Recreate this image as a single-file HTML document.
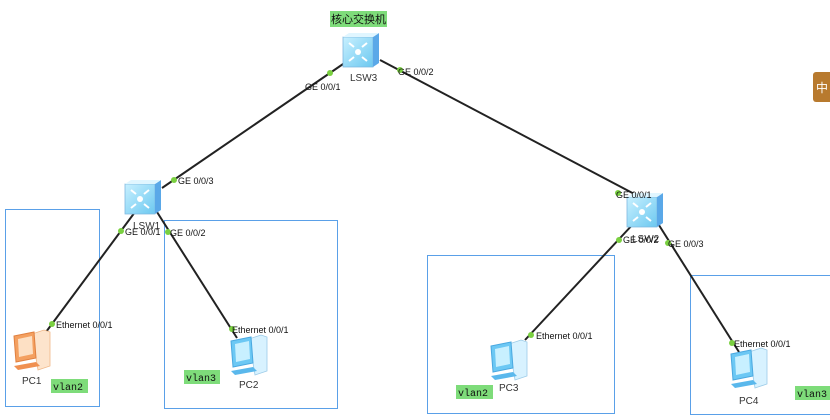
<!DOCTYPE html>
<html><head><meta charset="utf-8"><style>
body{margin:0;background:#fff;}
svg{display:block;font-family:"Liberation Sans","Noto Sans CJK SC",sans-serif;}
.p{font-size:9px;fill:#111;}
.n{font-size:10px;fill:#333;}
.v{font-family:"Liberation Mono",monospace;font-size:10px;fill:#111;}
</style></head><body>
<svg width="830" height="420" viewBox="0 0 830 420">
<defs>
<linearGradient id="sw" x1="0" y1="0" x2="1" y2="1"><stop offset="0" stop-color="#c8f0ff"/><stop offset="1" stop-color="#6cc8f0"/></linearGradient>
<g id="switch">
<path d="M0 4 L30 4 L30 34 L0 34 Z" fill="url(#sw)" stroke="#7fb8e0" stroke-width="0.8"/>
<path d="M30 4 L36 0 L36 30 L30 34 Z" fill="#5aa8e8"/>
<path d="M0 4 L6 0 L36 0 L30 4 Z" fill="#e0f6ff"/>
<circle cx="15" cy="19" r="3" fill="#fff"/>
<path d="M6 10 L11 14 M24 10 L19 14 M6 28 L11 24 M24 28 L19 24" stroke="#fff" stroke-width="2"/>
</g>
<g id="pc">
<path d="M22 6 L34 2 L40 4 L40 38 L28 42 Z" fill="#d8f2ff" stroke="#9ccbe8" stroke-width="0.8"/>
<path d="M4 8 L24 4 L26 30 L6 34 Z" fill="#6cc8f4" stroke="#4aa8e0"/>
<path d="M8 11 L22 8 L23 26 L9 29 Z" fill="#c8f0ff"/>
<path d="M4 38 L26 34 L30 38 L8 42 Z" fill="#5ab8ec"/>
</g>
<g id="pco">
<path d="M22 6 L34 2 L40 4 L40 38 L28 42 Z" fill="#fde4cc" stroke="#f0b888" stroke-width="0.8"/>
<path d="M4 8 L24 4 L26 30 L6 34 Z" fill="#f4a060" stroke="#e08040"/>
<path d="M8 11 L22 8 L23 26 L9 29 Z" fill="#fde0c4"/>
<path d="M4 38 L26 34 L30 38 L8 42 Z" fill="#f09050"/>
</g>
</defs>
<g fill="none" stroke="#5aa0e8" stroke-width="1">
<rect x="5.5" y="209.5" width="94" height="197"/>
<rect x="164.5" y="220.5" width="173" height="188"/>
<rect x="427.5" y="255.5" width="187" height="158"/>
<rect x="690.5" y="275.5" width="145" height="139"/>
</g>
<g stroke="#222" stroke-width="2">
<line x1="346" y1="62" x2="162" y2="188"/>
<line x1="380" y1="60" x2="642" y2="198"/>
<line x1="135" y1="212" x2="46" y2="332"/>
<line x1="157" y1="212" x2="237" y2="338"/>
<line x1="635" y1="222" x2="525" y2="340"/>
<line x1="657" y1="222" x2="739" y2="352"/>
</g>
<g fill="#7ad040">
<circle cx="330" cy="73" r="3"/><circle cx="400" cy="70" r="3"/>
<circle cx="174" cy="180" r="3"/><circle cx="618" cy="193" r="3"/>
<circle cx="121" cy="231" r="3"/><circle cx="168" cy="232" r="3"/>
<circle cx="52" cy="324" r="3"/><circle cx="232" cy="329" r="3"/>
<circle cx="619" cy="240" r="3"/><circle cx="668" cy="243" r="3"/>
<circle cx="531" cy="335" r="3"/><circle cx="732" cy="343" r="3"/>
</g>
<rect x="330" y="11" width="57" height="16" fill="#7edc7a"/>
<text x="331" y="23" font-size="11" fill="#111">核心交换机</text>
<use href="#switch" x="343" y="33"/>
<use href="#switch" x="125" y="180"/>
<use href="#switch" x="627" y="193"/>
<text class="n" x="350" y="81">LSW3</text>
<text class="n" x="133" y="229">LSW1</text>
<text class="n" x="632" y="242">LSW2</text>
<text class="p" x="305" y="90">GE 0/0/1</text>
<text class="p" x="398" y="75">GE 0/0/2</text>
<text class="p" x="178" y="184">GE 0/0/3</text>
<text class="p" x="616" y="198">GE 0/0/1</text>
<text class="p" x="125" y="235">GE 0/0/1</text>
<text class="p" x="170" y="236">GE 0/0/2</text>
<text class="p" x="623" y="243">GE 0/0/2</text>
<text class="p" x="668" y="247">GE 0/0/3</text>
<text class="p" x="56" y="328">Ethernet 0/0/1</text>
<text class="p" x="232" y="333">Ethernet 0/0/1</text>
<text class="p" x="536" y="339">Ethernet 0/0/1</text>
<text class="p" x="734" y="347">Ethernet 0/0/1</text>
<use href="#pco" x="10" y="328"/>
<use href="#pc" x="227" y="333"/>
<use href="#pc" x="487" y="338"/>
<use href="#pc" x="727" y="346"/>
<text class="n" x="22" y="384">PC1</text>
<text class="n" x="239" y="388">PC2</text>
<text class="n" x="499" y="391">PC3</text>
<text class="n" x="739" y="404">PC4</text>
<rect x="51" y="379" width="37" height="14" fill="#7edc7a"/><text class="v" x="53" y="390">vlan2</text>
<rect x="184" y="370" width="36" height="14" fill="#7edc7a"/><text class="v" x="186" y="381">vlan3</text>
<rect x="456" y="385" width="37" height="14" fill="#7edc7a"/><text class="v" x="458" y="396">vlan2</text>
<rect x="795" y="386" width="37" height="14" fill="#7edc7a"/><text class="v" x="797" y="397">vlan3</text>
<rect x="813" y="72" width="22" height="30" rx="3" fill="#b87a2e"/>
<text x="816" y="92" font-size="12" fill="#fff">中</text>
</svg>
</body></html>
